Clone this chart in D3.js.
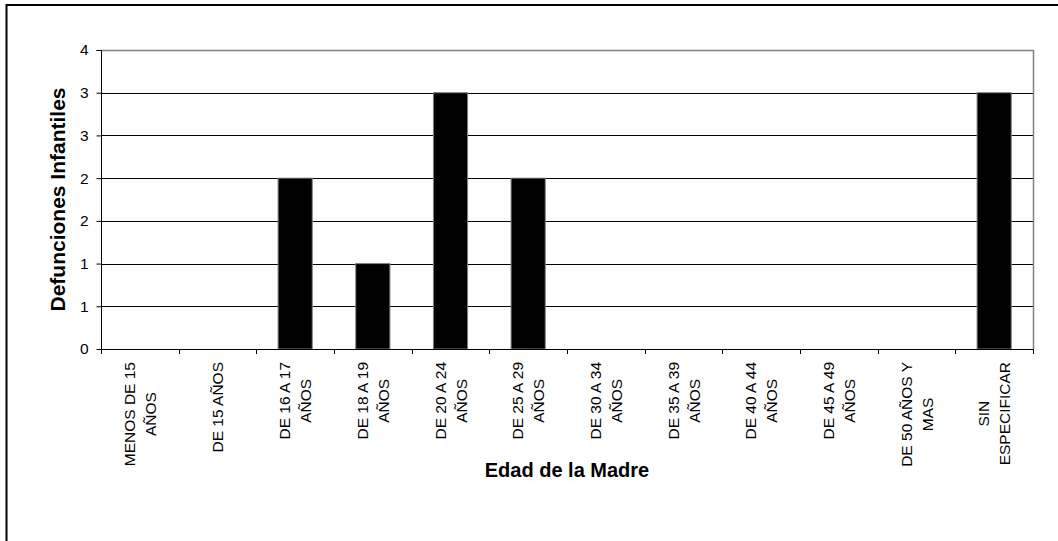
<!DOCTYPE html>
<html>
<head>
<meta charset="utf-8">
<script src="https://cdn.jsdelivr.net/npm/d3@7"></script>
<style>
  html, body { margin: 0; padding: 0; background: #fff; }
  svg { display: block; }
  text { font-family: Arial, "Liberation Sans", sans-serif; fill: #000; }
</style>
</head>
<body>
<svg id="chart" width="1058" height="541"></svg>
<script>
const categories = [
  ["MENOS DE 15", "AÑOS"],
  ["DE 15 AÑOS"],
  ["DE 16 A 17", "AÑOS"],
  ["DE 18 A 19", "AÑOS"],
  ["DE 20 A 24", "AÑOS"],
  ["DE 25 A 29", "AÑOS"],
  ["DE 30 A 34", "AÑOS"],
  ["DE 35 A 39", "AÑOS"],
  ["DE 40 A 44", "AÑOS"],
  ["DE 45 A 49", "AÑOS"],
  ["DE 50 AÑOS Y", "MAS"],
  ["SIN", "ESPECIFICAR"]
];
const values = [0, 0, 2, 1, 3, 2, 0, 0, 0, 0, 0, 3];
const yTickValues = [0, 0.5, 1, 1.5, 2, 2.5, 3, 3.5];
const yTickLabels = ["0", "1", "1", "2", "2", "3", "3", "4"];
const yTitle = "Defunciones Infantiles";
const xTitle = "Edad de la Madre";

const svg = d3.select("#chart");
const L = 101, R = 1033, T = 50, B = 349;

// outer chart border (extends past the view on right/bottom)
svg.append("rect")
  .attr("x", 6.5).attr("y", 5).attr("width", 1100).attr("height", 600)
  .attr("fill", "none").attr("stroke", "#000").attr("stroke-width", 2);

const x = d3.scaleBand().domain(d3.range(categories.length)).range([L, R]).paddingInner(0.56).paddingOuter(0.28);
const xEdge = d3.scaleLinear().domain([0, categories.length]).range([L, R]);
const y = d3.scaleLinear().domain([0, 3.5]).range([B, T]);

// gridlines
svg.append("g").selectAll("line").data(yTickValues.filter(v => v > 0 && v < 3.5)).join("line")
  .attr("x1", L).attr("x2", R)
  .attr("y1", d => Math.round(y(d)) + 0.5).attr("y2", d => Math.round(y(d)) + 0.5)
  .attr("stroke", "#000").attr("stroke-width", 1);

// plot border top/right (gray)
svg.append("path")
  .attr("d", `M${L},${T + 0.5}H${R + 0.5}V${B}`)
  .attr("fill", "none").attr("stroke", "#808080").attr("stroke-width", 1.5);

// bars
svg.append("g").selectAll("rect").data(values).join("rect")
  .attr("x", (d, i) => x(i))
  .attr("width", x.bandwidth())
  .attr("y", d => y(d))
  .attr("height", d => B - y(d))
  .attr("fill", "#000")
  .attr("stroke", "#808080").attr("stroke-width", 1);

// y axis
const yAxis = d3.axisLeft(y).tickValues(yTickValues).tickSize(5).tickPadding(8)
  .tickFormat((d, i) => yTickLabels[i]);
const gy = svg.append("g").attr("transform", `translate(${L + 0.5},0)`).call(yAxis);
gy.select(".domain").attr("stroke", "#000").attr("d", `M-5,${T + 0.5}H0V${B + 0.5}`);
gy.selectAll(".tick line").attr("stroke", "#000");
gy.selectAll(".tick text").style("font-size", "15.5px").attr("fill", "#000")
  .style("font-family", 'Arial, "Liberation Sans", sans-serif');

// x axis line and ticks at category boundaries
svg.append("line").attr("x1", L).attr("x2", R + 0.5)
  .attr("y1", B + 0.5).attr("y2", B + 0.5).attr("stroke", "#000").attr("stroke-width", 1.2);
svg.append("g").selectAll("line").data(d3.range(categories.length + 1)).join("line")
  .attr("x1", d => Math.round(xEdge(d)) + 0.5).attr("x2", d => Math.round(xEdge(d)) + 0.5)
  .attr("y1", B).attr("y2", B + 5).attr("stroke", "#000");

// x category labels (rotated, multi-line)
const fs = 15.5, lineGap = 21;
const lab = svg.append("g").selectAll("g").data(categories).join("g")
  .attr("transform", (d, i) => `translate(${x(i) + x.bandwidth() / 2},362) rotate(-90)`);
lab.each(function(lines) {
  const g = d3.select(this);
  const n = lines.length;
  const texts = lines.map((t, k) => g.append("text")
    .style("font-size", fs + "px")
    .attr("text-anchor", "middle")
    .attr("y", (k - (n - 1) / 2) * lineGap)
    .attr("dy", "0.36em")
    .text(t));
  const maxLen = d3.max(texts, t => t.node().getComputedTextLength());
  texts.forEach(t => t.attr("x", -maxLen / 2));
});

// axis titles
svg.append("text")
  .attr("transform", `translate(57,${(T + B) / 2}) rotate(-90)`)
  .attr("text-anchor", "middle").attr("dy", "0.36em")
  .style("font-size", "21px").style("font-weight", "bold")
  .text(yTitle);
svg.append("text")
  .attr("x", (L + R) / 2).attr("y", 477)
  .attr("text-anchor", "middle")
  .style("font-size", "20px").style("font-weight", "bold")
  .text(xTitle);
</script>
</body>
</html>
